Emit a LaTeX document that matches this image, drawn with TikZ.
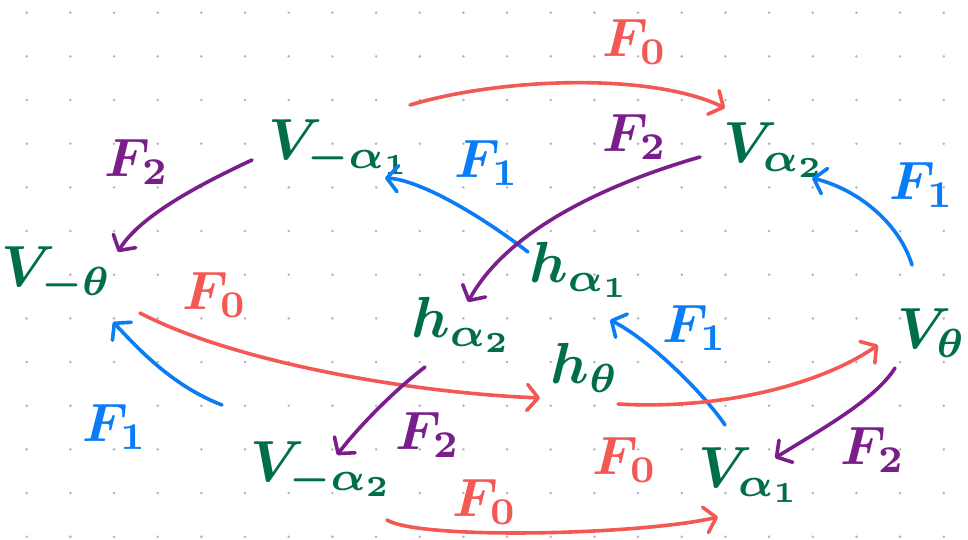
\documentclass[tikz,border=0pt]{standalone}
\usetikzlibrary{arrows.meta}
\definecolor{gn}{RGB}{0,110,76}
\definecolor{rd}{RGB}{244,88,84}
\definecolor{bl}{RGB}{10,124,245}
\definecolor{pu}{RGB}{122,30,140}
\definecolor{dotc}{RGB}{180,180,180}
\newcommand\bigvtx[1]{\scalebox{5.8}{\boldmath$#1$}}
\newcommand\biglab[1]{\scalebox{5.4}{\boldmath$#1$}}
\begin{document}
\begin{tikzpicture}[x=1pt,y=-1pt,
  vtx/.style={text=gn, inner sep=0pt},
  lab/.style={inner sep=0pt},
  edge/.style={line width=3.6pt, line cap=round, line join=round,
    -{Straight Barb[length=11pt,width=26pt,round]}}]
\fill[white] (0,0) rectangle (968,540);
\useasboundingbox (0,0) rectangle (968,540);
\foreach \i in {0,...,21}{
  \foreach \j in {0,...,12}{
    \fill[dotc] ({26.7+43.67*\i},{12.7+43.67*\j}) circle (1.4);
  }
}
% vertices
\node[vtx] (Vmt)  at (57,275)  {\bigvtx{V_{-\theta}}};
\node[vtx] (Vma1) at (340,148) {\bigvtx{V_{-\alpha_1}}};
\node[vtx] (Va2)  at (775,150) {\bigvtx{V_{\alpha_2}}};
\node[vtx] (ha2)  at (462,325) {\bigvtx{h_{\alpha_2}}};
\node[vtx] (ha1)  at (580,270) {\bigvtx{h_{\alpha_1}}};
\node[vtx] (ht)   at (585,368) {\bigvtx{h_{\theta}}};
\node[vtx] (Vt)   at (932,333) {\bigvtx{V_{\theta}}};
\node[vtx] (Vma2) at (322,470) {\bigvtx{V_{-\alpha_2}}};
\node[vtx] (Va1)  at (750,475) {\bigvtx{V_{\alpha_1}}};
% edges
\draw[edge,rd] ([shift={(70,-43)}]Vma1.center) .. controls +(90,-27) and +(-75,-36) .. ([shift={(-50,-42)}]Va2.center);
\draw[edge,pu] ([shift={(-88,12)}]Vma1.center) .. controls +(-47,22) and +(22,-37) .. ([shift={(61,-23)}]Vmt.center);
\draw[edge,bl] ([shift={(-52,-18)}]ha1.center) .. controls +(-48,-37) and +(35,2) .. ([shift={(45,30)}]Vma1.center);
\draw[edge,pu] ([shift={(-75,7)}]Va2.center) .. controls +(-80,23) and +(42,-77) .. ([shift={(6,-23)}]ha2.center);
\draw[edge,bl] ([shift={(-20,-68)}]Vt.center) .. controls +(-12,-40) and +(48,12) .. ([shift={(37,28)}]Va2.center);
\draw[edge,rd] ([shift={(83,38)}]Vmt.center) .. controls +(90,47) and +(-140,-6) .. ([shift={(-45,30)}]ht.center);
\draw[edge,bl] ([shift={(-100,-65)}]Vma2.center) .. controls +(-52,-20) and +(22,23) .. ([shift={(56,47)}]Vmt.center);
\draw[edge,pu] ([shift={(-37,42)}]ha2.center) .. controls +(-30,23) and +(23,-30) .. ([shift={(15,-15)}]Vma2.center);
\draw[edge,bl] ([shift={(-25,-50)}]Va1.center) .. controls +(-20,-30) and +(40,20) .. ([shift={(30,50)}]ha1.center);
\draw[edge,rd] ([shift={(33,36)}]ht.center) .. controls +(102,6) and +(-58,40) .. ([shift={(-54,12)}]Vt.center);
\draw[edge,pu] ([shift={(-37,35)}]Vt.center) .. controls +(-20,32) and +(45,-28) .. ([shift={(25,-17)}]Va1.center);
\draw[edge,rd] ([shift={(65,50)}]Vma2.center) .. controls +(33,20) and +(-78,18) .. ([shift={(-32,42)}]Va1.center);
% labels
\node[lab,text=rd] (l1)  at (635,42)  {\biglab{F_0}};
\node[lab,text=pu] (l2)  at (137,162) {\biglab{F_2}};
\node[lab,text=bl] (l3)  at (487,163) {\biglab{F_1}};
\node[lab,text=pu] (l4)  at (635,137) {\biglab{F_2}};
\node[lab,text=bl] (l5)  at (922,185) {\biglab{F_1}};
\node[lab,text=rd] (l6)  at (215,295) {\biglab{F_0}};
\node[lab,text=bl] (l7)  at (115,427) {\biglab{F_1}};
\node[lab,text=pu] (l8)  at (428,435) {\biglab{F_2}};
\node[lab,text=bl] (l9)  at (695,328) {\biglab{F_1}};
\node[lab,text=rd] (l10) at (625,460) {\biglab{F_0}};
\node[lab,text=pu] (l11) at (873,450) {\biglab{F_2}};
\node[lab,text=rd] (l12) at (485,502) {\biglab{F_0}};
\end{tikzpicture}
\end{document}
